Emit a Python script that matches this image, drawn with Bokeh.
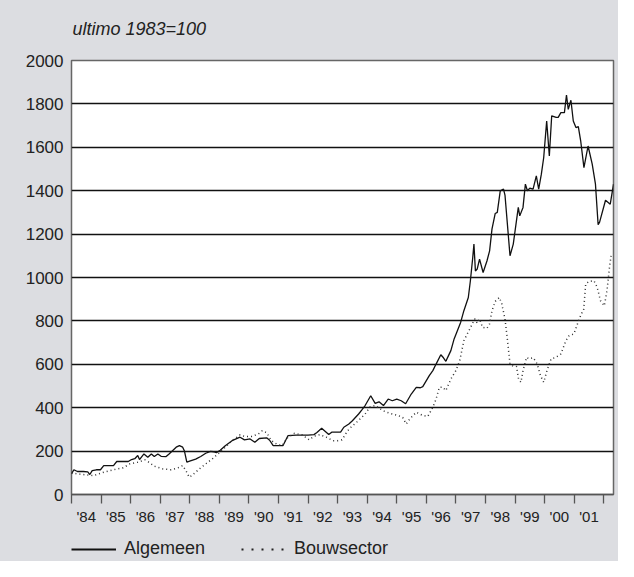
from bokeh.plotting import figure
from bokeh.models import Range1d, FixedTicker, Legend, LegendItem
from bokeh.layouts import column
from bokeh.embed import file_html
from bokeh.resources import INLINE

# ---- data (index, ultimo 1983 = 100), x in decimal years ----
alg_t = [1984.0, 1984.08, 1984.2, 1984.4, 1984.55, 1984.62, 1984.7, 1984.84, 1984.98, 1985.09,
         1985.42, 1985.53, 1985.92, 1986.03, 1986.14, 1986.24, 1986.3, 1986.45, 1986.58, 1986.7,
         1986.8, 1986.92, 1987.03, 1987.2, 1987.3, 1987.54, 1987.65, 1987.76, 1987.82, 1987.9,
         1988.02, 1988.2, 1988.37, 1988.54, 1988.7, 1988.8, 1988.9, 1989.03, 1989.2, 1989.43,
         1989.7, 1989.85, 1990.04, 1990.2, 1990.35, 1990.6, 1990.7, 1990.82, 1991.15, 1991.32,
         1991.6, 1992.0, 1992.2, 1992.3, 1992.46, 1992.7, 1992.8, 1993.1, 1993.21, 1993.38,
         1993.5, 1993.71, 1993.82, 1993.93, 1994.12, 1994.27, 1994.4, 1994.55, 1994.71, 1994.85,
         1995.0, 1995.15, 1995.3, 1995.49, 1995.66, 1995.8, 1995.88, 1996.1, 1996.22, 1996.33,
         1996.49, 1996.58, 1996.66, 1996.75, 1996.83, 1996.94, 1997.05, 1997.16, 1997.27, 1997.42,
         1997.49, 1997.57, 1997.61, 1997.66, 1997.72, 1997.8, 1997.92, 1998.05, 1998.14, 1998.22,
         1998.33, 1998.4, 1998.5, 1998.61, 1998.66, 1998.83, 1998.94, 1999.11, 1999.16, 1999.27,
         1999.35, 1999.42, 1999.5, 1999.61, 1999.72, 1999.8, 1999.89, 1999.97, 2000.07, 2000.16,
         2000.24, 2000.39, 2000.46, 2000.55, 2000.67, 2000.74, 2000.8, 2000.89, 2000.97, 2001.06,
         2001.14, 2001.22, 2001.33, 2001.47, 2001.61, 2001.72, 2001.81, 2001.86, 2002.06, 2002.22,
         2002.33]
alg_v = [95, 114, 106, 106, 104, 92, 110, 114, 114, 133,
         133, 152, 152, 161, 165, 180, 161, 187, 172, 187,
         175, 187, 176, 175, 187, 218, 225, 218, 200, 149,
         155, 163, 175, 190, 199, 197, 193, 204, 225, 248,
         264, 252, 256, 241, 258, 261, 250, 225, 225, 271,
         274, 274, 276, 286, 305, 276, 287, 287, 310, 325,
         340, 371, 390, 410, 455, 420, 427, 410, 440, 432,
         440, 432, 418, 463, 494, 492, 497, 548, 571, 601,
         644, 630, 614, 640, 663, 717, 755, 793, 847, 908,
         985, 1092, 1154, 1030, 1039, 1085, 1023, 1076, 1123, 1223,
         1295, 1300, 1399, 1407, 1380, 1100, 1154, 1323, 1284, 1323,
         1430, 1400, 1412, 1407, 1468, 1407, 1476, 1553, 1721, 1560,
         1745, 1738, 1738, 1760, 1760, 1841, 1775, 1817, 1721, 1691,
         1695, 1630, 1506, 1606, 1522, 1430, 1243, 1255, 1356, 1338,
         1430]

bouw_t = [1984.0, 1984.2, 1984.4, 1984.75, 1985.1, 1985.42, 1985.75, 1985.97, 1986.25, 1986.48,
          1986.6, 1986.81, 1987.09, 1987.37, 1987.6, 1987.76, 1987.87, 1987.98, 1988.08, 1988.2,
          1988.37, 1988.54, 1988.76, 1988.98, 1989.2, 1989.43, 1989.7, 1989.85, 1990.08, 1990.32,
          1990.45, 1990.6, 1990.76, 1990.93, 1991.12, 1991.32, 1991.54, 1991.8, 1992.04, 1992.2,
          1992.4, 1992.62, 1992.84, 1993.0, 1993.15, 1993.32, 1993.45, 1993.66, 1993.93, 1994.1,
          1994.27, 1994.55, 1994.77, 1995.05, 1995.2, 1995.32, 1995.45, 1995.66, 1995.88, 1996.05,
          1996.22, 1996.33, 1996.44, 1996.55, 1996.66, 1996.83, 1997.0, 1997.13, 1997.27, 1997.44,
          1997.64, 1997.72, 1997.8, 1997.9, 1998.05, 1998.14, 1998.22, 1998.33, 1998.47, 1998.55,
          1998.66, 1998.74, 1998.83, 1998.95, 1999.05, 1999.12, 1999.2, 1999.27, 1999.39, 1999.47,
          1999.55, 1999.62, 1999.75, 1999.86, 1999.97, 2000.08, 2000.22, 2000.38, 2000.55, 2000.72,
          2000.83, 2000.99, 2001.13, 2001.24, 2001.32, 2001.39, 2001.5, 2001.67, 2001.78, 2001.89,
          2002.02, 2002.11, 2002.2, 2002.25]
bouw_v = [100, 95, 92, 87, 103, 114, 123, 141, 149, 160,
          150, 130, 118, 114, 123, 133, 110, 80, 88, 103,
          123, 141, 164, 190, 218, 248, 275, 268, 267, 279,
          294, 285, 248, 233, 225, 264, 282, 275, 252, 268,
          276, 264, 248, 248, 252, 290, 310, 335, 371, 404,
          410, 385, 374, 364, 355, 325, 350, 379, 364, 360,
          402, 440, 494, 495, 479, 532, 571, 617, 709, 755,
          809, 790, 809, 770, 766, 786, 847, 890, 908, 880,
          809, 717, 601, 590, 590, 532, 517, 571, 632, 625,
          628, 630, 601, 548, 517, 571, 625, 632, 648, 709,
          732, 740, 793, 832, 850, 970, 982, 985, 954, 893,
          870, 939, 1054, 1100]

year_bounds = list(range(1984, 2003))
year_labels = ["'84", "'85", "'86", "'87", "'88", "'89", "'90", "'91", "'92",
               "'93", "'94", "'95", "'96", "'97", "'98", "'99", "'00", "'01"]
y_ticks = list(range(0, 2001, 200))

series_names = ["Algemeen", "Bouwsector"]
subtitle = "ultimo 1983=100"

FONT = "Liberation Sans"
TXT = "#222222"
BG = "#dcdde1"
W = 618

p = figure(width=W, height=536, output_backend="svg", toolbar_location=None,
           x_range=Range1d(1984, 2002.33), y_range=Range1d(0, 2000),
           min_border_left=71, min_border_right=5, min_border_top=60, min_border_bottom=42)
p.background_fill_color = "white"
p.border_fill_color = BG
p.outline_line_color = "#666666"
p.outline_line_width = 1.5

# subtitle (second, blank line lifts it to the reference height)
p.title.text = subtitle + "\n "
p.title.text_font = FONT
p.title.text_font_style = "italic"
p.title.text_font_size = "18px"
p.title.text_color = TXT
p.title.align = "left"
p.title.vertical_align = "top"
p.title.standoff = 0
p.title.offset = 1

# grid
p.xgrid.visible = False
p.ygrid.ticker = FixedTicker(ticks=y_ticks[1:-1])
p.ygrid.grid_line_color = "#111111"
p.ygrid.grid_line_width = 1.3

# y axis
yax = p.yaxis[0]
yax.ticker = FixedTicker(ticks=y_ticks)
yax.axis_line_color = None
yax.major_tick_out = 0
yax.major_tick_in = 0
yax.minor_tick_out = 0
yax.minor_tick_in = 0
yax.major_label_text_font = FONT
yax.major_label_text_font_size = "17px"
yax.major_label_text_color = TXT
yax.major_label_standoff = 8

# x axis: ticks at year boundaries (minor), labels at mid-year (major)
mids = [y + 0.5 for y in year_bounds[:-1]]
xax = p.xaxis[0]
xax.ticker = FixedTicker(ticks=mids, minor_ticks=year_bounds)
xax.major_label_overrides = {m: lab for m, lab in zip(mids, year_labels)}
xax.axis_line_color = "#555555"
xax.axis_line_width = 1.3
xax.major_tick_out = 0
xax.major_tick_in = 0
xax.minor_tick_out = 9
xax.minor_tick_in = 0
xax.minor_tick_line_color = "#555555"
xax.minor_tick_line_width = 1.3
xax.major_label_text_font = FONT
xax.major_label_text_font_size = "15px"
xax.major_label_text_color = TXT
xax.major_label_standoff = 4

# series
r_alg = p.line(alg_t, alg_v, line_color="#111111", line_width=1.3)
r_bouw = p.line(bouw_t, bouw_v, line_color="#333333", line_width=1.5, line_dash="1 3")

# ---- legend strip underneath (same grey background) ----
lg = figure(width=W, height=25, output_backend="svg", toolbar_location=None,
            x_range=Range1d(0, 1), y_range=Range1d(0, 1),
            min_border_left=71, min_border_right=5, min_border_top=0, min_border_bottom=0)
lg.axis.visible = False
lg.grid.visible = False
lg.outline_line_color = None
lg.background_fill_color = BG
lg.background_fill_alpha = 1
lg.border_fill_color = BG
lg.border_fill_alpha = 1
# legend proxies: same data, but the strip's ranges keep them out of view
lg_alg = lg.line(alg_t, alg_v, line_color="#111111", line_width=2)
lg_bouw = lg.line(bouw_t, bouw_v, line_color="#222222", line_width=2, line_dash="2 8")

legend = Legend(items=[LegendItem(label=series_names[0], renderers=[lg_alg]),
                       LegendItem(label=series_names[1], renderers=[lg_bouw])],
                location=(0, 2), orientation="horizontal",
                glyph_width=45, label_standoff=8, spacing=36, padding=0, margin=0,
                border_line_color=None, background_fill_alpha=0,
                label_text_font=FONT, label_text_font_size="18px", label_text_color=TXT)
lg.add_layout(legend, "center")

layout = column(p, lg, spacing=0, styles={"background-color": BG})
open("out.html", "w").write(file_html(layout, INLINE))
